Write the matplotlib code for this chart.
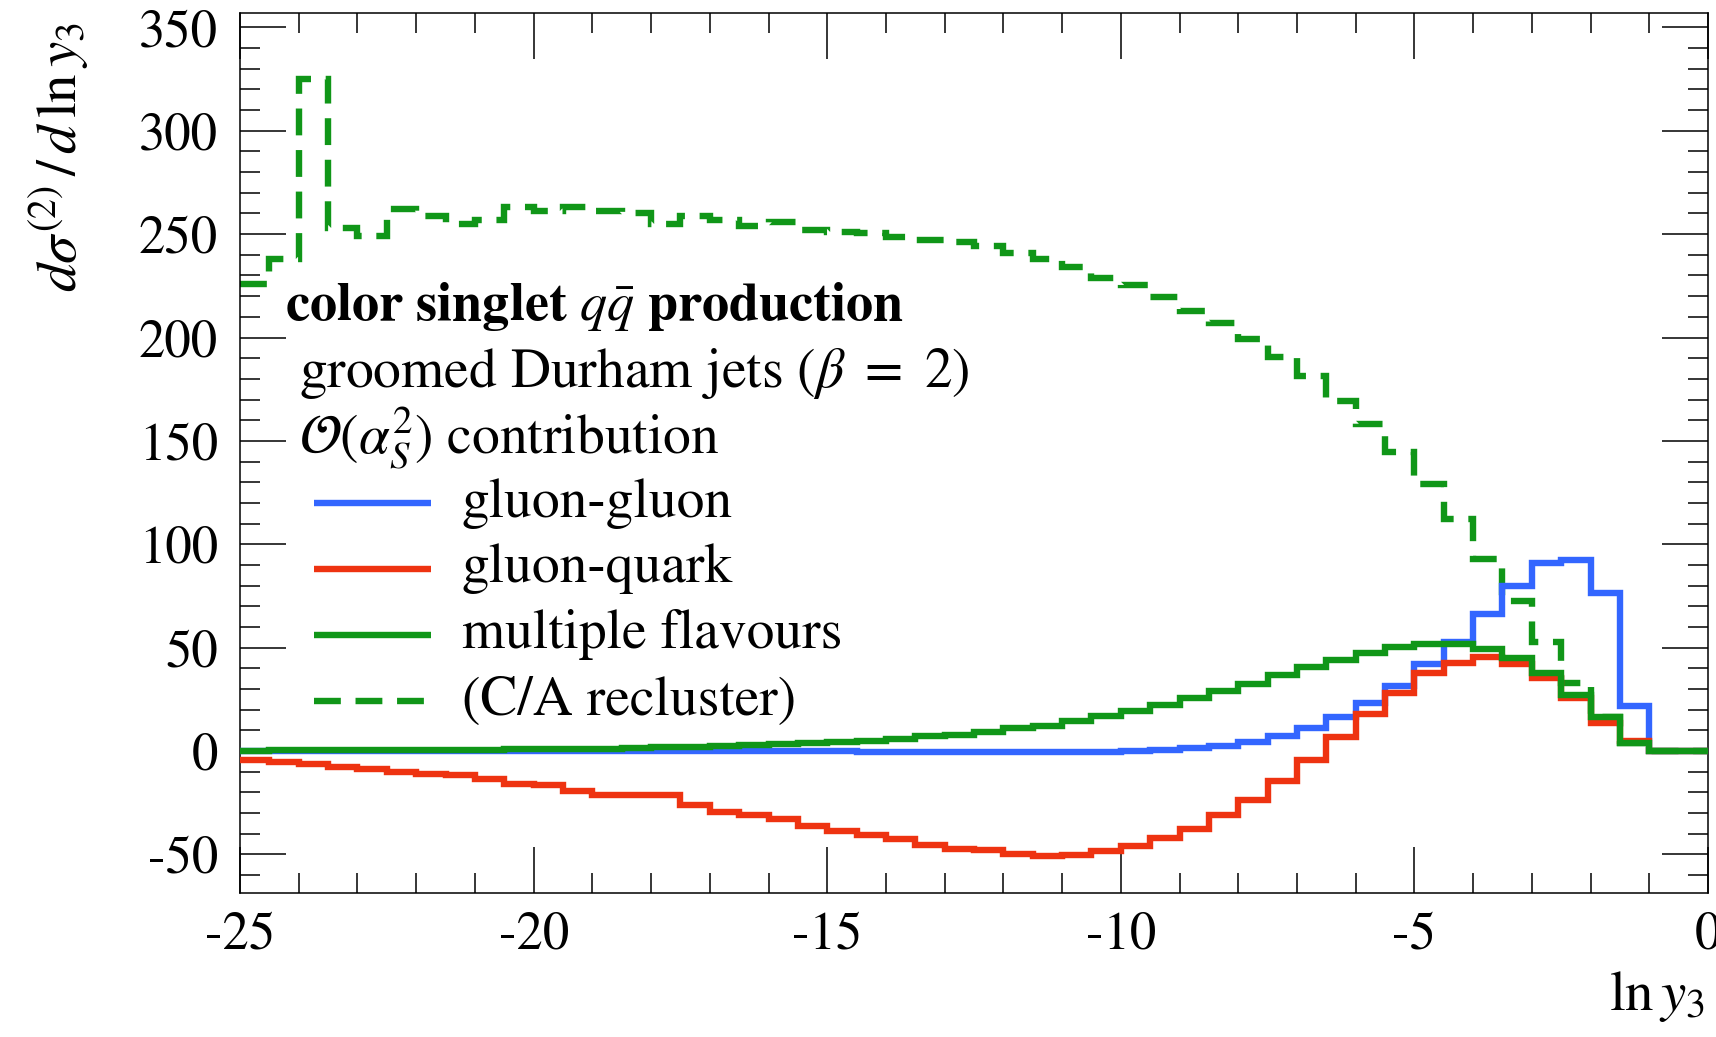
"""
Second-order ln y3 distribution, groomed Durham jets (beta = 2).
"""

import matplotlib
matplotlib.use("Agg")
import matplotlib.pyplot as plt
from matplotlib.ticker import MultipleLocator
import numpy as np

plt.rcParams["font.family"] = "STIXGeneral"
plt.rcParams["mathtext.fontset"] = "stix"
plt.rcParams["axes.unicode_minus"] = False

RED = "#EE3311"
BLUE = "#3366FF"
GREEN = "#109618"

# bin edges of ln y3, half-unit bins from -25 to 0
edges = np.linspace(-25, 0, 51)

gluon_gluon = [
    0.0, 0.0, 0.0, 0.0, 0.0, 0.0, 0.0, 0.0, 0.0, 0.0,
    0.0, 0.0, 0.0, 0.0, -0.1, -0.1, -0.1, -0.1, -0.2, -0.2,
    -0.2, -0.3, -0.3, -0.4, -0.4, -0.5, -0.6, -0.6, -0.5, -0.4,
    -0.2, 0.3, 1.3, 2.6, 4.4, 7.3, 11.1, 16.4, 23.3, 31.2,
    41.9, 52.8, 66.3, 80.0, 90.9, 92.4, 76.6, 21.8, 0.0, 0.0,
]
gluon_quark = [
    -4.4, -5.2, -6.3, -7.7, -8.5, -10.0, -11.0, -11.8, -13.4, -16.0,
    -16.3, -19.4, -21.3, -21.3, -21.3, -26.1, -29.3, -31.0, -32.9, -36.1,
    -38.5, -40.6, -42.6, -45.5, -47.6, -47.9, -49.8, -50.6, -50.3, -48.2,
    -46.0, -42.1, -37.7, -31.0, -23.7, -14.4, -4.4, 6.8, 17.9, 28.2,
    37.6, 42.4, 45.3, 42.2, 35.2, 25.5, 13.4, 5.0, 0.0, 0.0,
]
multi_flavour = [
    0.2, 0.3, 0.3, 0.4, 0.4, 0.5, 0.5, 0.6, 0.6, 0.7,
    0.8, 0.9, 1.1, 1.4, 1.7, 2.1, 2.5, 2.9, 3.3, 3.7,
    4.2, 4.8, 5.8, 7.1, 7.9, 9.2, 11.1, 12.2, 14.5, 16.8,
    19.3, 22.3, 25.5, 29.0, 32.6, 36.6, 40.4, 44.0, 47.4, 50.3,
    51.6, 51.8, 49.3, 44.8, 37.6, 27.1, 16.6, 3.7, 0.0, 0.0,
]
ca_recluster = [
    226, 238, 325, 253, 249, 262, 259, 255, 257, 263,
    261, 263, 261, 260, 255, 259, 257, 254, 256, 252,
    251, 250.5, 248.5, 247, 246, 244.5, 241, 238, 234, 229,
    225.5, 219.6, 212.9, 207.2, 199.2, 190.6, 181.3, 169.5, 158.4, 144.5,
    129, 112.4, 92.7, 72.7, 52.7, 32.9, 16.6, 3.7, 0.0, 0.0,
]

LW = 4.6
DASH = (0, (4.2, 2.3))

fig = plt.figure(figsize=(17.16, 10.37), dpi=100)
ax = fig.add_axes([0.1399, 0.1389, 0.8554, 0.8486])

ax.stairs(ca_recluster, edges, baseline=None, color=GREEN, lw=LW, linestyle=DASH, zorder=2)
ax.stairs(gluon_gluon, edges, baseline=None, color=BLUE, lw=LW, zorder=3)
ax.stairs(gluon_quark, edges, baseline=None, color=RED, lw=LW, zorder=4)
ax.stairs(multi_flavour, edges, baseline=None, color=GREEN, lw=LW, zorder=5)

ax.set_xlim(-25, 0)
ax.set_ylim(-68.7, 357)
ax.xaxis.set_major_locator(MultipleLocator(5))
ax.xaxis.set_minor_locator(MultipleLocator(1))
ax.yaxis.set_major_locator(MultipleLocator(50))
ax.yaxis.set_minor_locator(MultipleLocator(10))
ax.tick_params(which="both", direction="in", top=True, right=True, width=1.1, labelsize=38)
ax.tick_params(which="major", length=33)
ax.tick_params(which="minor", length=14.5)
ax.tick_params(axis="x", pad=13)
ax.tick_params(axis="y", pad=16)
for sp in ax.spines.values():
    sp.set_linewidth(1.1)

# ── header + legend ─────────────────────────────────────────────────────────
FS = 40
ax.text(0.0303, 0.6666, r"color singlet $q\bar{q}$ production", transform=ax.transAxes,
        fontsize=39, fontweight="bold", va="center")
ax.text(0.0402, 0.5898, r"groomed Durham jets ($\beta\ =\ 2$)", transform=ax.transAxes,
        fontsize=FS, va="center")
ax.text(0.0402, 0.5173, r"$\mathcal{O}(\alpha_S^2)$ contribution", transform=ax.transAxes,
        fontsize=FS, va="center")

entries = [
    ("gluon-gluon", BLUE, "-"),
    ("gluon-quark", RED, "-"),
    ("multiple flavours", GREEN, "-"),
    ("(C/A recluster)", GREEN, DASH),
]
rows = [0.4427, 0.3682, 0.2935, 0.2177]
for (label, col, ls), yy in zip(entries, rows):
    ax.plot([0.0504, 0.1301], [yy, yy], transform=ax.transAxes, color=col,
            lw=LW, linestyle=ls, solid_capstyle="butt", dash_capstyle="butt")
    ax.text(0.151, yy, label, transform=ax.transAxes, fontsize=FS, va="center")

fig.text(0.035, 0.979, r"$d\sigma^{(2)}\,/\,d\,\ln y_3$", rotation=90,
         ha="center", va="top", fontsize=41)
fig.text(0.9936, 0.0395, r"$\ln y_3$", ha="right", va="center", fontsize=41)

fig.savefig("out.png", dpi=100)
